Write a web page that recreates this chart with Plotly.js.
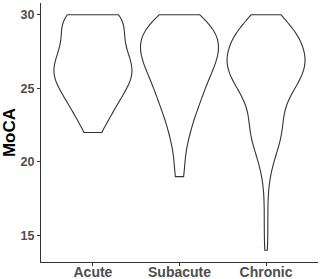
<!DOCTYPE html>
<html><head><meta charset="utf-8">
<script src="https://cdn.plot.ly/plotly-3.0.1.min.js"></script>
<style>html,body{margin:0;padding:0;background:#fff}#chart{width:320px;height:279px}</style>
</head><body><div id="chart"></div>
<script>
var categories = ["Acute", "Subacute", "Chronic"];
// MoCA score values and how many participants had each score (estimated)
var scores = [14, 15, 16, 17, 18, 19, 20, 21, 22, 23, 24, 25, 26, 27, 28, 29, 30];
var acuteCounts    = [0, 0, 0, 0, 0, 0, 0, 0, 2, 4, 6, 8, 11, 9, 7, 7, 10];
var subacuteCounts = [0, 0, 0, 0, 0, 2, 1, 2, 3, 4, 6, 7, 9, 11, 12, 11, 6];
var chronicCounts  = [1, 1, 1, 1, 1, 2, 4, 7, 10, 9, 10, 16, 22, 24, 20, 18, 7];
var yTicks = [15, 20, 25, 30];

function expand(counts) {
  var out = [];
  for (var i = 0; i < scores.length; i++) for (var k = 0; k < counts[i]; k++) out.push(scores[i]);
  return out;
}
var allCounts = [acuteCounts, subacuteCounts, chronicCounts];
var traces = categories.map(function (c, i) {
  var ys = expand(allCounts[i]);
  return {
    type: "violin", x: ys.map(function () { return c; }), y: ys,
    points: false, box: {visible: false}, meanline: {visible: false},
    spanmode: "hard", scalemode: "width", width: 0.9, bandwidth: 1,
    fillcolor: "rgba(255,255,255,0)", line: {color: "#333333", width: 1.1},
    hoverinfo: "skip", showlegend: false
  };
});
var fam = "Liberation Sans, Arial, sans-serif";
var layout = {
  width: 320, height: 279,
  margin: {l: 41, r: 2, t: 3, b: 17},
  paper_bgcolor: "#fff", plot_bgcolor: "#fff",
  font: {family: fam},
  xaxis: {
    type: "category", categoryorder: "array", categoryarray: categories,
    range: [-0.6, 2.6], showline: true, linecolor: "#333333", linewidth: 1.1,
    ticks: "outside", ticklen: 3, tickcolor: "#333333", tickwidth: 1.1,
    showgrid: false, zeroline: false, ticklabelstandoff: -6,
    tickfont: {size: 14, color: "#4d4d4d", family: fam, weight: "bold"}
  },
  yaxis: {
    range: [13.2, 30.8], tickvals: yTicks, ticktext: yTicks.map(String),
    showline: true, linecolor: "#333333", linewidth: 1.1,
    ticks: "outside", ticklen: 3, tickcolor: "#333333", tickwidth: 1.1,
    showgrid: false, zeroline: false,
    tickfont: {size: 12.5, color: "#4d4d4d", family: fam, weight: "bold"},
    title: {text: "MoCA", standoff: 4, font: {size: 17, color: "#000", family: fam, weight: "bold"}}
  }
};
Plotly.newPlot("chart", traces, layout, {staticPlot: true, displayModeBar: false});
</script></body></html>
